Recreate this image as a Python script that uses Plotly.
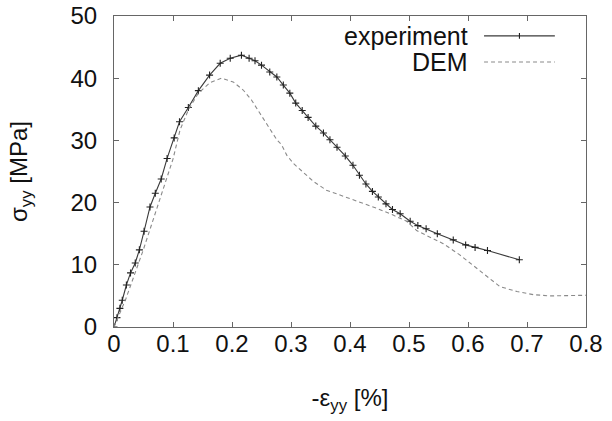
import plotly.graph_objects as go

# experiment data
exp_x = [0.0, 0.005, 0.010, 0.014, 0.021, 0.028, 0.036, 0.043, 0.051, 0.061, 0.070, 0.080, 0.090,
         0.102, 0.111, 0.126, 0.143, 0.162, 0.180, 0.197, 0.216, 0.229, 0.239, 0.250,
         0.264, 0.276, 0.287, 0.298, 0.308, 0.319, 0.329, 0.342, 0.355, 0.366, 0.378,
         0.392, 0.405, 0.416, 0.427, 0.438, 0.448, 0.461, 0.472, 0.485, 0.502, 0.515,
         0.529, 0.548, 0.575, 0.596, 0.612, 0.633, 0.687]
exp_y = [0.0, 1.5, 3.0, 4.3, 6.75, 8.7, 10.3, 12.4, 15.4, 19.3, 21.5, 23.8, 27.1,
         30.4, 33.0, 35.3, 38.0, 40.5, 42.4, 43.2, 43.7, 43.2, 42.8, 42.1,
         41.0, 40.2, 38.9, 37.6, 36.0, 34.8, 33.7, 32.3, 31.2, 30.1, 28.9,
         27.5, 26.0, 24.4, 23.0, 21.8, 20.9, 19.8, 18.9, 18.2, 17.0, 16.3,
         15.8, 15.0, 14.0, 13.2, 12.8, 12.3, 10.8]

# DEM data
dem_x = [0.0, 0.02, 0.05, 0.08, 0.10, 0.112, 0.126, 0.143, 0.163, 0.182, 0.202, 0.219,
         0.233, 0.247, 0.262, 0.276, 0.284, 0.293, 0.304, 0.321, 0.338, 0.360, 0.389,
         0.417, 0.445, 0.473, 0.496, 0.513, 0.538, 0.558, 0.586, 0.615, 0.632, 0.654,
         0.683, 0.711, 0.739, 0.767, 0.80]
dem_y = [0.0, 4.5, 12.5, 21.0, 27.0, 31.7, 34.9, 37.6, 39.3, 40.0, 39.4, 38.1,
         36.5, 34.4, 32.2, 30.1, 29.3, 27.6, 26.3, 24.8, 23.4, 22.0, 21.0,
         20.1, 19.1, 18.0, 17.0, 15.5, 14.3, 13.4, 11.6, 9.4, 8.1, 6.5,
         5.7, 5.2, 5.0, 5.0, 5.1]

x_ticks = [0, 0.1, 0.2, 0.3, 0.4, 0.5, 0.6, 0.7, 0.8]
x_ticklabels = ["0", "0.1", "0.2", "0.3", "0.4", "0.5", "0.6", "0.7", "0.8"]
y_ticks = [0, 10, 20, 30, 40, 50]
y_ticklabels = ["0", "10", "20", "30", "40", "50"]
legend_names = ["experiment", "DEM"]

FONT = "Liberation Sans, Arial, sans-serif"
EXP_COLOR = "#3a3a3a"
DEM_COLOR = "#8a8a8a"
FS = 24

fig = go.Figure()
fig.add_trace(go.Scatter(
    x=exp_x, y=exp_y, mode="lines+markers", name=legend_names[0],
    line=dict(color=EXP_COLOR, width=1.1),
    marker=dict(symbol="cross-thin", size=5, line=dict(color="#222222", width=1.1)),
))
fig.add_trace(go.Scatter(
    x=dem_x, y=dem_y, mode="lines", name=legend_names[1],
    line=dict(color=DEM_COLOR, width=1.1, dash="4px,3px"),
))

axis_common = dict(
    showline=True, linecolor="#666666", linewidth=1, mirror="ticks",
    ticks="inside", ticklen=5, tickcolor="#666666", tickwidth=1,
    showgrid=False, zeroline=False, automargin=False,
    tickfont=dict(family=FONT, size=FS, color="#111111"),
)

fig.update_layout(
    width=612, height=421,
    margin=dict(l=114, r=26, t=16, b=94),
    paper_bgcolor="white", plot_bgcolor="white",
    showlegend=False,
    xaxis=dict(range=[0, 0.8], tickvals=x_ticks, ticktext=x_ticklabels,
               ticklabelstandoff=-5,
               title=dict(text="-ε<sub>yy</sub> [%]", font=dict(family=FONT, size=FS, color="#111111"), standoff=33),
               **axis_common),
    yaxis=dict(range=[0, 50], tickvals=y_ticks, ticktext=y_ticklabels,
               ticklabelstandoff=11,
               title=dict(text="σ<sub>yy</sub> [MPa]", font=dict(family=FONT, size=FS, color="#111111"), standoff=36),
               **axis_common),
)

# legend drawn gnuplot-style: right-aligned text, sample to the right
leg_rows = [(0.936, EXP_COLOR, "solid"), (0.852, DEM_COLOR, "4px,3px")]
for name, (yp, col, dash) in zip(legend_names, leg_rows):
    fig.add_annotation(xref="paper", yref="paper", x=0.754, y=yp, text=name,
                       showarrow=False, xanchor="right", yanchor="middle",
                       font=dict(family=FONT, size=FS + 1, color="#111111"))
    fig.add_shape(type="line", xref="paper", yref="paper", x0=0.784, x1=0.934, y0=yp, y1=yp,
                  line=dict(color=col, width=1.1, dash=dash))
fig.add_shape(type="line", xref="paper", yref="paper", x0=0.859, x1=0.859,
              y0=0.936 - 0.009, y1=0.936 + 0.009, line=dict(color="#222222", width=1.1))

fig.write_html("out.html")
